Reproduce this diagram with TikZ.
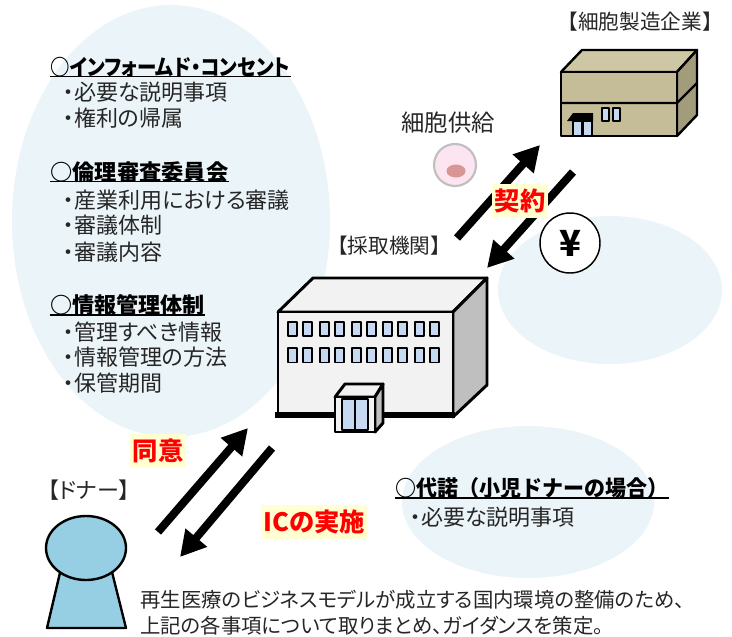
\documentclass[tikz,border=0pt]{standalone}
\usepackage{fontspec}
\usepackage{graphicx}
\setmainfont{Noto Sans CJK JP}[RawFeature={+palt}]
\newfontfamily\fullwidthfont{Noto Sans CJK JP}
\usetikzlibrary{arrows.meta}

\definecolor{bubble}{HTML}{EBF4F8}
\definecolor{wallfront}{HTML}{F2F2F2}
\definecolor{wallside}{HTML}{BFBFBF}
\definecolor{glass}{HTML}{C6D9F1}
\definecolor{tanfront}{HTML}{C4BD97}
\definecolor{tantop}{HTML}{CEC7A3}
\definecolor{tanside}{HTML}{A29C7B}
\definecolor{skin}{HTML}{96CFE3}
\definecolor{cellpink}{HTML}{FDE4F1}
\definecolor{cellgray}{HTML}{BFBFBF}
\definecolor{nucleus}{HTML}{D99694}
\definecolor{labelyellow}{HTML}{FFFFD2}
\definecolor{bodytext}{HTML}{262626}

% set a line of text to a given width (in pt) by horizontal scaling only
\newsavebox\fitbox
\newdimen\fitdim
\newcommand\fitw[2]{\sbox\fitbox{#2}\fitdim=\wd\fitbox
  \pgfmathsetmacro\fitratio{#1/\the\fitdim}\scalebox{\fitratio}[1]{\usebox\fitbox}}

\begin{document}
\begin{tikzpicture}[x=0.75pt,y=-0.75pt,
  txt/.style={inner sep=0pt, text=bodytext, font=\fontsize{16.5}{19.5}\selectfont},
  head/.style={inner sep=0pt, text=black, font=\fontsize{16.5}{19.5}\selectfont\bfseries},
  uline/.style={line width=1.1pt, black},
  redlabel/.style={fill=labelyellow, text=red, inner xsep=2pt, inner ysep=3.5pt,
    font=\fontsize{19}{22}\selectfont\bfseries},
  bigarrow/.style={line width=6pt, -{Triangle[length=19pt,width=20pt]}},
]
\useasboundingbox (0,0) rectangle (732,636);

% background bubbles
\fill[bubble] (171,221) ellipse [x radius=159, y radius=216];
\fill[bubble] (610,290) ellipse [x radius=112, y radius=74];
\fill[bubble] (528,502) ellipse [x radius=126, y radius=76];

% ---- left bubble: checklist ----
\node[head, anchor=west] (h1) at (50,67) {\fitw{180}{○インフォームド・コンセント}};
\node[txt, anchor=west] (a1) at (63,92) {・必要な説明事項};
\node[txt, anchor=west] (a2) at (63,118) {・権利の帰属};
\node[head, anchor=west] (h2) at (50,172) {\fitw{133.5}{○倫理審査委員会}};
\node[txt, anchor=west] (b1) at (63,200) {・産業利用における審議};
\node[txt, anchor=west] (b2) at (63,225) {・審議体制};
\node[txt, anchor=west] (b3) at (63,252) {・審議内容};
\node[head, anchor=west] (h3) at (50,305) {\fitw{116}{○情報管理体制}};
\node[txt, anchor=west] (c1) at (63,332) {・管理すべき情報};
\node[txt, anchor=west] (c2) at (63,357) {・情報管理の方法};
\node[txt, anchor=west] (c3) at (63,383) {・保管期間};
\foreach \h in {h1,h2,h3}
  \draw[uline] ([yshift=0.8pt]\h.south west) -- ([yshift=0.8pt]\h.south east);

% ---- lower right bubble: proxy consent ----
\node[head, anchor=west] (h4) at (395,488) {\fullwidthfont\fitw{205}{○代諾（小児ドナーの場合）}};
\node[txt, anchor=west] (d1) at (410,517) {・必要な説明事項};
\draw[uline] ([yshift=0.8pt]h4.south west) -- ([yshift=0.8pt]h4.south east);

% ---- cell manufacturer building ----
\begin{scope}[line width=1.8pt, line join=round]
  \filldraw[fill=tantop]  (561,72) -- (582,50) -- (697,50) -- (677,72) -- cycle;
  \filldraw[fill=tanside] (677,72) -- (697,50) -- (697,115) -- (677,136) -- cycle;
  \filldraw[fill=tanfront] (561,72) rectangle (677,136);
  \draw (561,103) -- (677,103) -- (697,83);
  \fill[black] (567,121) -- (573,113) -- (593,113) -- (593,121) -- cycle;
  \filldraw[fill=glass] (573,121) rectangle (592,136);
  \draw (582.5,121) -- (582.5,136);
  \filldraw[fill=glass, line width=1.1pt] (602,108) rectangle (609,121);
  \filldraw[fill=glass, line width=1.1pt] (613,108) rectangle (620,121);
\end{scope}
\node[txt, font=\fontsize{15.5}{19}\fullwidthfont] (maker) at (640,22) {【細胞製造企業】};

% ---- collection institution building ----
\begin{scope}[line width=2.2pt, line join=round]
  \filldraw[fill=wallfront] (278,312) -- (313,278) -- (487,278) -- (453,312) -- cycle;
  \filldraw[fill=wallside]  (453,312) -- (487,278) -- (487,385) -- (453,417) -- cycle;
  \filldraw[fill=wallfront] (278,312) rectangle (453,415);
  \draw[line width=4pt] (275,415) -- (455,415);
  \foreach \x in {288.3,303.3,320,335,351.7,366.7,383.3,398.3,415,430} {
    \filldraw[fill=glass, line width=1.3pt] (\x,322) rectangle ++(9,14);
    \filldraw[fill=glass, line width=1.3pt] (\x,348) rectangle ++(9,14.5);
  }
  % entrance
  \filldraw[fill=wallfront] (335,397) -- (345,384) -- (383,384) -- (375,397) -- cycle;
  \filldraw[fill=wallside]  (375,397) -- (383,384) -- (383,423) -- (375,432) -- cycle;
  \filldraw[fill=wallfront] (335,397) rectangle (375,432);
  \filldraw[fill=glass, line width=1.3pt] (342,399) rectangle (368,430);
  \draw[line width=1.3pt] (355,399) -- (355,430);
\end{scope}
\node[txt, font=\fontsize{15.5}{19}\fullwidthfont] (inst) at (389,246) {【採取機関】};

% ---- donor ----
\filldraw[fill=skin, draw=black, line width=1.8pt, line join=round]
  (63,560) -- (109,560) -- (126,628) -- (47,628) -- cycle;
\filldraw[fill=skin, draw=black, line width=1.8pt] (86,548) ellipse [x radius=40, y radius=32];
\node[txt] (donor) at (89,490) {【ドナー】};

% ---- cell ----
\filldraw[fill=cellpink, draw=cellgray, line width=1.6pt] (455,165) circle [radius=21];
\fill[nucleus] (456,171) ellipse [x radius=9.5, y radius=6.5];
\node[txt, font=\fontsize{17.5}{20}\selectfont] (supply) at (448,123) {細胞供給};

% ---- payment ----
\node[circle, draw=black, line width=1.1pt, fill=white, minimum size=45pt, inner sep=0pt,
  font=\fontsize{27}{27}\selectfont\bfseries] (yen) at (570,243) {¥};

% ---- arrows ----
\coordinate (instTop)   at (457,238);
\coordinate (makerLow)  at (540,145);
\coordinate (makerOut)  at (573,172);
\coordinate (instIn)    at (487,268);
\coordinate (donorOut)  at (158,532);
\coordinate (instLow)   at (248,428);
\coordinate (instOut)   at (272,448);
\coordinate (donorIn)   at (180,557);
\draw[bigarrow] (instTop) -- (makerLow);
\draw[bigarrow] (makerOut) -- (instIn);
\draw[bigarrow] (donorOut) -- (instLow);
\draw[bigarrow] (instOut) -- (donorIn);

% ---- arrow labels ----
\node[redlabel] (contract) at (520,201) {契約};
\node[redlabel] (consent) at (158,451) {同意};
\node[redlabel] (ic) at (314,522) {ICの実施};

% ---- closing note ----
\node[txt, anchor=base west, font=\fontsize{15.3}{19}\selectfont] (note1) at (140,607.5) {再生医療のビジネスモデルが成立する国内環境の整備のため、};
\node[txt, anchor=base west, font=\fontsize{15.3}{19}\selectfont] (note2) at (140,633) {上記の各事項について取りまとめ、ガイダンスを策定。};
\end{tikzpicture}
\end{document}
